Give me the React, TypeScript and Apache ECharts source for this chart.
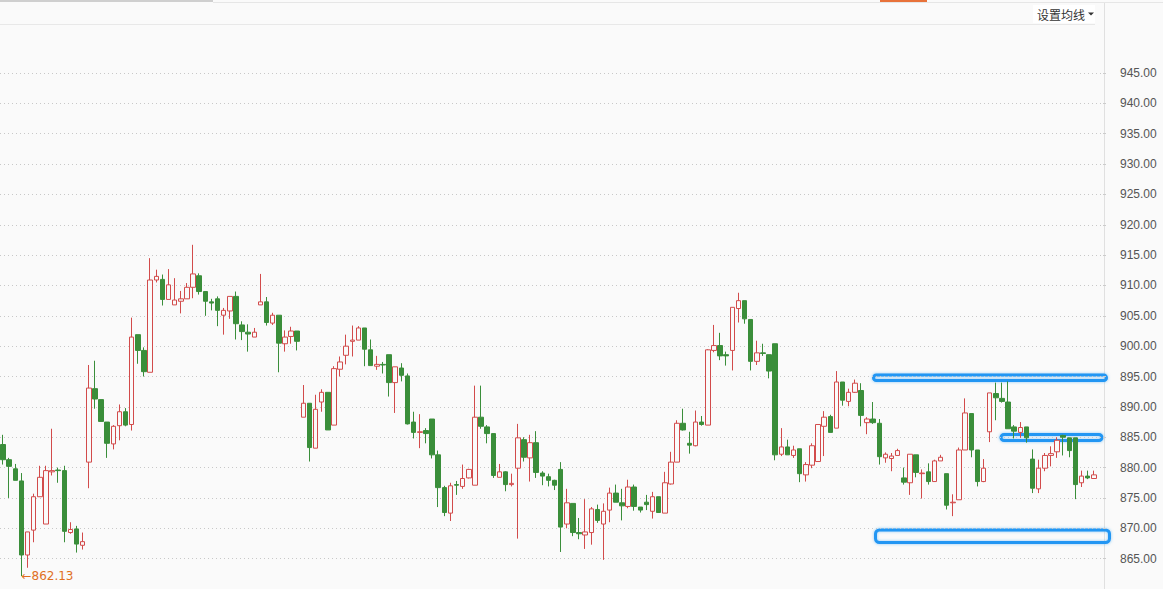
import React, { useEffect, useRef } from "react";
import * as echarts from "echarts";

const opens = [
  883.8, 881.3, 879.8, 877.8, 865.6, 869.7, 875.2, 870.7, 879.3, 879.6,
  879.5, 869.3, 869.9, 867.2, 880.9, 893.0, 891.2, 887.5, 883.9, 886.9,
  889.2, 887.1, 901.9, 899.3, 895.7, 910.9, 911.0, 907.7, 906.8, 907.4,
  907.8, 909.7, 911.6, 909.0, 907.3, 907.8, 905.1, 905.8, 908.2, 903.5,
  902.3, 901.5, 906.8, 907.3, 903.8, 905.1, 900.4, 901.6, 902.5, 888.3,
  890.6, 883.2, 890.8, 892.4, 887.0, 896.2, 898.5, 900.8, 901.0, 903.0,
  899.4, 896.7, 897.0, 898.6, 894.0, 896.4, 895.1, 887.5, 885.8, 886.1,
  888.0, 882.1, 876.7, 872.5, 877.2, 876.9, 878.3, 877.1, 888.3, 886.7,
  885.6, 878.4, 879.3, 877.2, 879.9, 884.6, 881.6, 884.1, 879.1, 878.5,
  877.9, 879.7, 870.7, 874.1, 869.3, 868.9, 869.3, 873.1, 870.7, 873.0,
  875.8, 874.2, 873.6, 876.8, 873.5, 874.3, 872.8, 875.2, 872.5, 877.3,
  880.9, 887.3, 884.0, 883.6, 887.5, 887.0, 899.3, 900.1, 898.6, 899.3,
  906.2, 907.5, 904.4, 897.5, 898.9, 898.6, 900.4, 882.2, 883.4, 882.0,
  883.1, 878.8, 880.4, 881.0, 886.8, 888.4, 886.5, 894.1, 890.9, 892.4,
  892.7, 887.4, 888.0, 887.3, 881.6, 881.5, 882.0, 878.3, 877.5, 882.1,
  879.0, 879.3, 877.7, 881.1, 879.0, 874.2, 874.7, 882.9, 888.9, 882.9,
  877.7, 885.9, 892.2, 891.4, 890.8, 886.7, 885.8, 886.7, 881.4, 876.5,
  879.9, 882.0, 882.6, 885.3, 884.9, 884.9, 877.5, 878.6, 878.2,
];

const closes = [
  881.3, 880.2, 877.9, 865.6, 869.4, 875.2, 878.4, 879.5, 879.5, 879.5,
  869.5, 869.8, 867.4, 867.8, 893.1, 891.3, 887.6, 884.0, 886.8, 889.2,
  887.0, 901.5, 899.3, 895.8, 910.9, 911.5, 907.7, 910.1, 907.6, 907.8,
  909.7, 911.9, 909.0, 907.4, 907.1, 905.9, 905.9, 908.2, 903.7, 902.4,
  902.0, 902.3, 907.3, 903.9, 905.1, 900.5, 901.5, 902.5, 900.8, 890.6,
  883.3, 889.6, 892.4, 886.2, 896.3, 897.4, 900.0, 901.0, 903.0, 899.5,
  896.8, 897.0, 896.9, 894.0, 896.6, 895.2, 887.2, 885.8, 885.9, 885.6,
  882.1, 876.7, 872.6, 877.0, 877.1, 878.2, 879.7, 888.3, 886.8, 885.6,
  878.7, 879.3, 877.2, 877.4, 884.9, 881.7, 884.1, 879.2, 878.6, 877.9,
  877.1, 870.2, 874.2, 869.3, 869.1, 869.4, 873.2, 871.3, 872.8, 875.8,
  874.3, 873.7, 876.8, 873.6, 873.0, 873.9, 875.2, 872.6, 877.5, 880.9,
  887.3, 886.2, 883.7, 887.5, 887.1, 899.4, 900.1, 898.4, 898.4, 906.4,
  907.5, 904.5, 897.5, 898.9, 898.8, 895.9, 882.1, 883.4, 882.1, 882.9,
  879.0, 880.5, 883.6, 887.1, 888.3, 885.8, 894.1, 891.1, 892.4, 893.9,
  888.6, 888.0, 887.4, 881.8, 882.2, 881.9, 882.8, 877.6, 882.2, 879.2,
  879.1, 877.7, 881.1, 881.7, 873.8, 874.3, 882.9, 889.0, 882.9, 877.7,
  879.9, 892.3, 891.5, 890.9, 886.4, 886.0, 886.6, 884.9, 876.6, 879.9,
  882.0, 882.3, 884.5, 885.0, 882.8, 877.2, 878.6, 878.3, 878.8,
];

const lows = [
  880.5, 875.0, 877.9, 862.13, 863.5, 867.7, 875.2, 870.7, 878.7, 877.5,
  867.7, 869.1, 866.0, 866.5, 876.6, 889.7, 887.6, 881.6, 883.0, 884.5,
  886.8, 886.1, 897.1, 895.0, 895.7, 910.5, 906.7, 907.7, 906.8, 905.4,
  907.8, 907.9, 908.5, 905.0, 905.9, 903.3, 901.9, 904.5, 901.1, 901.0,
  899.1, 901.5, 906.8, 903.4, 903.5, 895.7, 899.1, 900.4, 899.3, 888.3,
  881.0, 883.2, 889.2, 886.2, 887.0, 895.0, 897.0, 898.3, 901.0, 896.7,
  896.8, 896.1, 895.5, 891.7, 889.0, 894.2, 887.1, 884.8, 883.2, 884.0,
  881.5, 873.5, 872.0, 871.2, 875.5, 876.5, 878.2, 877.1, 886.4, 884.0,
  878.3, 878.4, 876.1, 876.9, 868.3, 881.0, 877.7, 878.3, 877.1, 876.9,
  876.3, 866.1, 870.0, 868.7, 868.2, 866.6, 867.3, 870.9, 864.8, 871.0,
  874.3, 871.3, 873.3, 872.9, 872.6, 873.0, 871.6, 872.6, 872.5, 877.2,
  880.9, 886.1, 882.3, 883.5, 886.9, 887.0, 899.0, 897.7, 896.8, 896.0,
  903.9, 903.7, 896.0, 896.9, 898.4, 894.7, 881.2, 881.9, 882.1, 881.6,
  877.6, 877.7, 879.9, 881.0, 881.9, 885.8, 886.5, 890.2, 890.1, 892.3,
  886.8, 885.5, 887.2, 880.5, 880.8, 879.4, 882.0, 877.2, 875.5, 878.4,
  874.9, 877.2, 877.7, 881.1, 873.1, 872.0, 874.7, 882.9, 881.7, 876.9,
  877.6, 884.2, 887.8, 890.7, 886.4, 884.8, 884.9, 884.1, 875.8, 875.8,
  879.4, 880.2, 881.6, 882.0, 881.7, 874.8, 876.8, 878.1, 878.2,
];

const highs = [
  885.4, 881.6, 880.6, 879.1, 869.4, 875.7, 880.3, 880.3, 886.4, 880.0,
  880.3, 871.0, 870.4, 869.3, 896.9, 897.6, 891.2, 887.5, 887.0, 890.4,
  889.8, 904.7, 901.9, 899.8, 914.5, 912.6, 911.8, 912.7, 911.2, 909.1,
  910.4, 916.7, 912.0, 909.0, 907.8, 908.2, 906.3, 908.2, 909.0, 904.1,
  903.6, 903.0, 911.9, 908.1, 905.5, 905.1, 902.6, 903.2, 902.5, 893.6,
  890.6, 892.0, 892.9, 892.4, 896.7, 898.3, 901.9, 903.4, 903.3, 903.0,
  901.1, 898.4, 897.4, 898.6, 896.6, 897.2, 895.5, 889.2, 888.8, 886.5,
  888.0, 882.8, 877.0, 877.5, 877.8, 880.5, 879.8, 893.5, 893.5, 887.0,
  885.6, 880.6, 879.4, 879.0, 887.2, 885.0, 885.4, 886.0, 879.4, 879.0,
  878.0, 880.9, 876.5, 874.1, 871.7, 874.8, 873.5, 873.9, 874.1, 876.7,
  877.2, 876.5, 878.0, 877.2, 873.5, 875.5, 876.0, 875.2, 879.3, 882.6,
  887.8, 889.7, 885.9, 889.4, 888.5, 899.5, 903.5, 902.2, 899.1, 906.4,
  908.8, 907.5, 904.4, 900.9, 900.4, 898.6, 900.4, 886.5, 884.6, 883.6,
  883.1, 880.9, 884.0, 887.1, 889.3, 888.7, 895.9, 894.1, 893.0, 894.5,
  893.9, 888.3, 890.8, 888.0, 882.5, 882.4, 883.1, 880.0, 882.2, 882.1,
  879.7, 880.7, 881.3, 882.1, 879.0, 875.6, 883.3, 891.4, 888.9, 882.9,
  881.4, 892.3, 894.0, 894.0, 894.2, 887.0, 887.5, 886.7, 883.0, 881.3,
  882.4, 883.5, 885.0, 885.4, 884.9, 884.9, 879.5, 879.5, 879.5,
];

// one trailing empty slot so the plot reaches the right axis line
const categories = opens.map((_, i) => String(i + 1)).concat([""]);

const yTicks = { min: 860, max: 945, step: 5 };

export default function App() {
  const ref = useRef<HTMLDivElement>(null);

  useEffect(() => {
    if (!ref.current) return;
    const chart = echarts.init(ref.current, undefined, { renderer: "svg" });
    const candles = opens.map((o, i) => [o, closes[i], lows[i], highs[i]]);

    const blue = "#2196f3";
    chart.setOption({
      animation: false,
      backgroundColor: "#fafafa",
      grid: { left: 0, right: 60, top: 73, bottom: 0, containLabel: false },
      xAxis: {
        type: "category",
        data: categories,
        boundaryGap: true,
        show: false,
      },
      yAxis: {
        type: "value",
        position: "right",
        min: yTicks.min,
        max: yTicks.max,
        interval: yTicks.step,
        scale: true,
        axisLine: { show: false },
        axisTick: { show: true, length: 3, lineStyle: { color: "#cccccc" } },
        axisLabel: {
          showMinLabel: false,
          margin: 17,
          color: "#555555",
          fontSize: 12,
          fontFamily: "Liberation Sans, Arial, sans-serif",
          formatter: (v: number) => v.toFixed(2),
        },
        splitLine: {
          show: true,
          showMinLine: false,
          lineStyle: { color: "#c8c8c8", type: [1, 3], width: 1 },
        },
      },
      series: [
        {
          type: "candlestick",
          data: candles,
          barWidth: 5,
          itemStyle: {
            color: "#fafafa",
            borderColor: "#d24b4b",
            color0: "#3a8e3a",
            borderColor0: "#3a8e3a",
            borderWidth: 1,
          },
          markPoint: {
            symbol: "circle",
            symbolSize: 0,
            data: [{ type: "min", valueDim: "lowest" }],
            label: {
              show: true,
              position: "right",
              distance: 0,
              color: "#e0701f",
              fontSize: 12,
              fontFamily: "DejaVu Sans, Liberation Sans, sans-serif",
              formatter: (p: any) => "\u2190" + Number(p.value).toFixed(2),
            },
          },
        },
      ],
      graphic: [
        { type: "rect", shape: { x: 0, y: 0, width: 213, height: 2 }, style: { fill: "#cfcfcf" }, silent: true },
        { type: "line", shape: { x1: 213, y1: 2.5, x2: 1163, y2: 2.5 }, style: { stroke: "#e6e6e6", lineWidth: 1 }, silent: true },
        { type: "rect", shape: { x: 880, y: 0, width: 47, height: 2 }, style: { fill: "#e8723a" }, silent: true },
        { type: "line", shape: { x1: 0, y1: 24.5, x2: 1095, y2: 24.5 }, style: { stroke: "#e8e8e8", lineWidth: 1 }, silent: true },
        { type: "line", shape: { x1: 1104.5, y1: 3, x2: 1104.5, y2: 589 }, style: { stroke: "#e0e0e0", lineWidth: 1 }, silent: true },
        { type: "rect", shape: { x: 1033, y: 5, width: 62, height: 18 }, style: { fill: "#ffffff" }, silent: true },
        {
          type: "text",
          x: 1037,
          y: 14,
          style: {
            text: "设置均线",
            fill: "#333333",
            fontSize: 12,
            fontFamily: "Noto Sans CJK SC, sans-serif",
            verticalAlign: "middle",
            align: "left",
          },
          silent: true,
        },
        { type: "polygon", shape: { points: [[1088, 12.5], [1094, 12.5], [1091, 15.5]] }, style: { fill: "#333333" }, silent: true },
        {
          type: "rect",
          shape: { x: 873.5, y: 375, width: 233, height: 5.5, r: 3 },
          style: { fill: "none", stroke: blue, lineWidth: 3, shadowBlur: 3, shadowColor: "rgba(33,150,243,0.5)" },
          silent: true,
        },
        {
          type: "rect",
          shape: { x: 1001, y: 434.5, width: 101, height: 6, r: 3 },
          style: { fill: "none", stroke: blue, lineWidth: 3, shadowBlur: 3, shadowColor: "rgba(33,150,243,0.5)" },
          silent: true,
        },
        {
          type: "rect",
          shape: { x: 875.5, y: 530, width: 234, height: 12.5, r: 4 },
          style: { fill: "none", stroke: blue, lineWidth: 3, shadowBlur: 3, shadowColor: "rgba(33,150,243,0.5)" },
          silent: true,
        },
      ],
    });
    return () => chart.dispose();
  }, []);

  return (
    <div
      ref={ref}
      style={{ position: "absolute", left: 0, top: 0, width: 1163, height: 589 }}
    />
  );
}
